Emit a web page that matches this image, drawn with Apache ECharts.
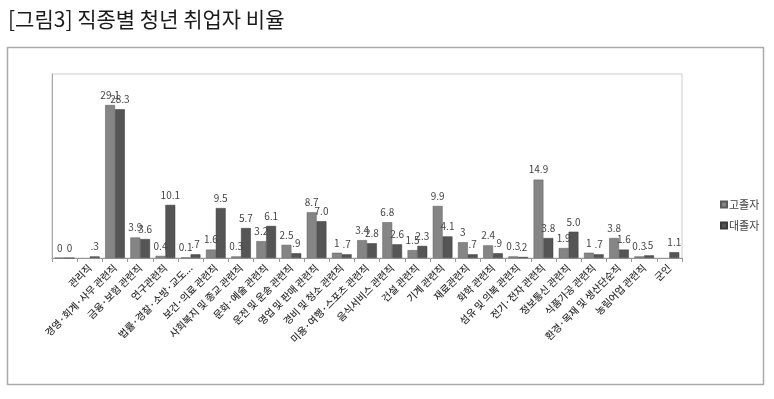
<!DOCTYPE html>
<html>
<head>
<meta charset="utf-8">
<script src="https://cdn.jsdelivr.net/npm/echarts@6/dist/echarts.min.js"></script>
<style>
html, body { margin: 0; padding: 0; background: #fff; }
#main { width: 774px; height: 399px; }
</style>
</head>
<body>
<div id="main"></div>
<script>
var categories = ['', '관리직', '경영·회계·사무 관련직', '금융·보험 관련직', '연구관련직', '법률·경찰·소방·교도...',
    '보건·의료 관련직', '사회복지 및 종교 관련직', '문화·예술 관련직', '운전 및 운송 관련직', '영업 및 판매 관련직',
    '경비 및 청소 관련직', '미용·여행·스포츠 관련직', '음식서비스 관련직', '건설 관련직', '기계 관련직', '재료관련직',
    '화학 관련직', '섬유 및 의복 관련직', '전기·전자 관련직', '정보통신 관련직', '식품가공 관련직',
    '환경·목재 및 생산단순직', '농림어업 관련직', '군인'];
var highSchool = [0, null, 29.1, 3.9, 0.4, 0.1, 1.6, 0.3, 3.2, 2.5, 8.7, 1, 3.4, 6.8, 1.5, 9.9, 3, 2.4, 0.3, 14.9, 1.9, 1, 3.8, 0.3, null];
var college = [0, 0.3, 28.3, 3.6, 10.1, 0.7, 9.5, 5.7, 6.1, 0.9, 7.0, 0.7, 2.8, 2.6, 2.3, 4.1, 0.7, 0.9, 0.2, 3.8, 5.0, 0.7, 1.6, 0.5, 1.1];
// 그림에 찍힌 그대로의 값 표기
var highSchoolLabels = ['0', '', '29.1', '3.9', '0.4', '0.1', '1.6', '0.3', '3.2', '2.5', '8.7', '1', '3.4', '6.8', '1.5', '9.9', '3', '2.4', '0.3', '14.9', '1.9', '1', '3.8', '0.3', ''];
var collegeLabels = ['0', '.3', '28.3', '3.6', '10.1', '.7', '9.5', '5.7', '6.1', '.9', '7.0', '.7', '2.8', '2.6', '2.3', '4.1', '.7', '.9', '.2', '3.8', '5.0', '.7', '1.6', '.5', '1.1'];

var font = '"Noto Sans CJK KR", "Noto Sans", sans-serif';
var chart = echarts.init(document.getElementById('main'));

var option = {
    backgroundColor: '#fff',
    animation: false,
    textStyle: { fontFamily: font },
    title: {
        text: '[그림3] 직종별 청년 취업자 비율',
        left: 3,
        top: 4,
        textStyle: { fontFamily: font, fontSize: 21, fontWeight: 'normal', color: '#1a1a1a' }
    },
    graphic: [{
        type: 'rect',
        shape: { x: 7.5, y: 47.5, width: 756, height: 337 },
        style: { fill: 'none', stroke: '#aaa', lineWidth: 1.5 },
        z: -1
    }],
    legend: {
        orient: 'vertical',
        left: 715,
        top: 194,
        icon: 'rect',
        itemWidth: 6,
        itemHeight: 6,
        itemGap: 10,
        textStyle: { fontFamily: font, fontSize: 11, color: '#444', padding: [0, 0, 0, -3] },
        data: ['고졸자', '대졸자']
    },
    grid: {
        left: 52, right: 92, top: 74, bottom: 141,
        show: true, borderColor: '#ccc', borderWidth: 1
    },
    xAxis: {
        type: 'category',
        data: categories,
        axisLine: { lineStyle: { color: '#999' } },
        axisTick: { show: true, length: 4, lineStyle: { color: '#999' } },
        axisLabel: {
            interval: 0, rotate: 45, fontSize: 10, color: '#333', margin: 8,
            fontWeight: 500, fontFamily: font
        }
    },
    yAxis: {
        type: 'value',
        min: 0,
        max: 35,
        axisLine: { show: true, lineStyle: { color: '#aaa' } },
        axisTick: { show: false },
        axisLabel: { show: false },
        splitLine: { show: false }
    },
    series: [{
        name: '고졸자',
        type: 'bar',
        data: highSchool,
        barGap: '0%',
        barCategoryGap: '22%',
        itemStyle: { color: '#858585', borderColor: '#5a5a5a', borderWidth: 0.5 },
        label: {
            show: true, position: 'top', distance: 5, fontSize: 10, color: '#444',
            formatter: function (p) { return highSchoolLabels[p.dataIndex]; }
        }
    }, {
        name: '대졸자',
        type: 'bar',
        data: college,
        itemStyle: { color: '#555555', borderColor: '#3a3a3a', borderWidth: 0.5 },
        label: {
            show: true, position: 'top', distance: 5, fontSize: 10, color: '#444',
            formatter: function (p) { return collegeLabels[p.dataIndex]; }
        }
    }]
};
chart.setOption(option);
</script>
</body>
</html>
